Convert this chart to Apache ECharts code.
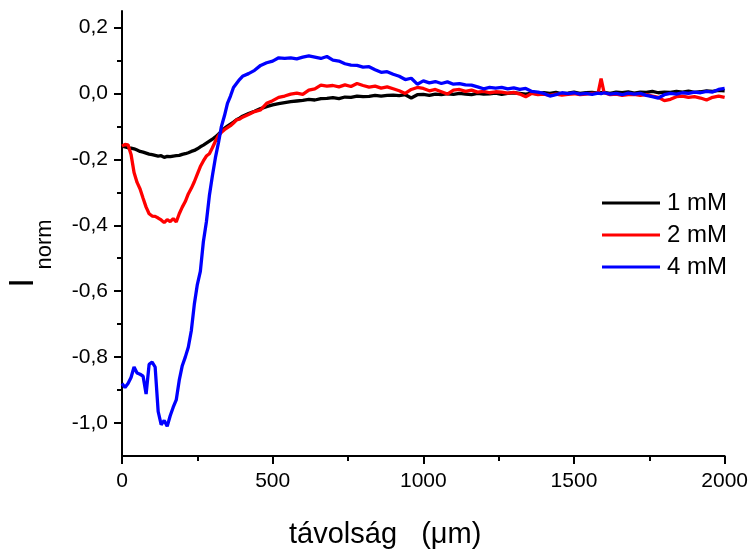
<!DOCTYPE html>
<html>
<head>
<meta charset="utf-8">
<script src="https://cdn.jsdelivr.net/npm/echarts@6/dist/echarts.min.js"></script>
<style>
html,body{margin:0;padding:0;background:#fff;}
#chart{width:751px;height:550px;}
</style>
</head>
<body>
<div id="chart"></div>
<script>
const distance = [0,10,20,30,40,50,60,70,80,90,
100,110,120,130,140,150,160,170,180,190,
200,210,220,230,240,250,260,270,280,290,
300,310,320,330,340,350,360,370,380,390,
400,
420,440,460,480,500,520,540,560,580,600,
620,640,660,680,700,720,740,760,780,800,
820,840,860,880,900,920,940,960,980,1000,
1020,1040,1060,1080,1100,1120,1140,1160,1180,1200,
1220,1240,1260,1280,1300,1320,1340,1360,1380,1400,
1420,1440,1460,1480,1500,1520,1540,1560,1580,1590,
1600,1620,1640,1660,1680,1700,1720,1740,1760,1780,
1800,1820,1840,1860,1880,1900,1920,1940,1960,1980,
2000];

const mM1 = [-0.160,-0.162,-0.165,-0.166,-0.168,-0.172,-0.176,-0.178,-0.181,-0.184,
-0.186,-0.188,-0.190,-0.189,-0.194,-0.191,-0.192,-0.190,-0.189,-0.188,
-0.185,-0.183,-0.180,-0.176,-0.173,-0.168,-0.162,-0.157,-0.151,-0.145,
-0.139,-0.132,-0.124,-0.115,-0.106,-0.099,-0.093,-0.087,-0.080,-0.075,
-0.069,
-0.061,-0.054,-0.046,-0.040,-0.035,-0.031,-0.028,-0.025,-0.023,-0.021,
-0.018,-0.020,-0.016,-0.015,-0.013,-0.016,-0.011,-0.012,-0.008,-0.010,
-0.009,-0.006,-0.008,-0.006,-0.005,-0.007,-0.004,-0.014,-0.004,-0.003,
-0.006,-0.002,-0.004,-0.001,-0.003,0.000,-0.002,-0.004,0.000,-0.002,
-0.001,0.001,-0.003,0.000,0.002,0.000,-0.002,0.001,-0.001,0.002,
0.000,0.003,-0.001,0.001,0.004,0.000,0.002,0.003,0.001,0.002,
0.003,0.000,0.004,0.002,0.005,0.001,0.004,0.003,0.006,0.002,
0.004,0.003,0.006,0.004,0.007,0.003,0.005,0.008,0.006,0.009,
0.008];

const mM2 = [-0.160,-0.155,-0.156,-0.185,-0.240,-0.270,-0.290,-0.318,-0.345,-0.365,
-0.372,-0.373,-0.378,-0.384,-0.392,-0.383,-0.389,-0.380,-0.390,-0.365,
-0.345,-0.328,-0.305,-0.288,-0.268,-0.245,-0.222,-0.205,-0.190,-0.183,
-0.165,-0.145,-0.128,-0.118,-0.110,-0.104,-0.098,-0.090,-0.080,-0.078,
-0.072,
-0.064,-0.055,-0.050,-0.030,-0.022,-0.012,-0.008,-0.002,0.001,-0.003,
0.010,0.014,0.025,0.022,0.024,0.020,0.026,0.021,0.030,0.024,
0.019,0.022,0.016,0.020,0.014,0.008,0.000,0.012,0.018,0.015,
0.008,0.012,0.005,-0.002,0.010,0.012,0.006,0.010,0.004,0.006,
0.002,0.005,0.004,0.001,0.003,-0.002,-0.010,0.000,-0.004,-0.002,
-0.006,-0.002,-0.005,-0.003,-0.001,-0.004,-0.002,0.000,0.001,0.045,
0.002,-0.004,-0.002,-0.006,-0.004,-0.003,-0.006,-0.004,-0.008,-0.012,
-0.022,-0.018,-0.010,-0.008,-0.012,-0.010,-0.014,-0.020,-0.012,-0.008,
-0.012];

const mM4 = [-0.880,-0.892,-0.880,-0.862,-0.830,-0.848,-0.852,-0.858,-0.912,-0.822,
-0.815,-0.830,-0.965,-1.005,-0.992,-1.010,-0.978,-0.952,-0.930,-0.870,
-0.826,-0.800,-0.770,-0.720,-0.640,-0.580,-0.540,-0.450,-0.390,-0.310,
-0.250,-0.195,-0.150,-0.100,-0.068,-0.030,-0.008,0.018,0.030,0.042,
0.052,
0.060,0.070,0.085,0.093,0.098,0.108,0.106,0.108,0.105,0.110,
0.114,0.110,0.106,0.112,0.101,0.098,0.090,0.086,0.085,0.080,
0.081,0.072,0.064,0.066,0.058,0.052,0.042,0.046,0.028,0.038,
0.032,0.036,0.030,0.035,0.028,0.030,0.026,0.025,0.020,0.014,
0.018,0.016,0.018,0.014,0.017,0.012,0.015,0.006,0.004,0.000,
-0.008,-0.004,0.002,-0.001,0.002,-0.002,0.000,-0.003,0.001,-0.001,
0.002,-0.002,0.000,-0.004,0.001,-0.002,0.000,-0.006,-0.010,-0.014,
-0.004,0.000,-0.002,0.002,0.000,0.004,0.002,0.006,0.004,0.012,
0.015];

const seriesNames = ['1 mM', '2 mM', '4 mM'];
const seriesColors = ['#000000', '#ff0000', '#0000ff'];
const yMajorTicks = [-1.0, -0.8, -0.6, -0.4, -0.2, 0.0, 0.2];
const yMinorTicks = [-0.9, -0.7, -0.5, -0.3, -0.1, 0.1];

[mM1, mM2, mM4].forEach((a, i) => {
  if (a.length !== distance.length) throw new Error('length mismatch ' + i + ': ' + a.length + ' vs ' + distance.length);
});

const FONT = '"Liberation Sans", Arial, sans-serif';
const pairs = arr => distance.map((x, i) => [x, arr[i]]);
const fmt = v => {
  const s = Number(v).toFixed(1).replace('.', ',');
  return s === '-0,0' ? '0,0' : s;
};

const chart = echarts.init(document.getElementById('chart'), null, {renderer: 'canvas'});
chart.setOption({
  animation: false,
  backgroundColor: '#ffffff',
  grid: {left: 122, right: 23, top: 11, bottom: 94, containLabel: false},
  legend: {
    orient: 'vertical',
    left: 602,
    top: 191,
    padding: 0,
    icon: 'rect',
    itemWidth: 58,
    itemHeight: 3,
    itemGap: 8,
    data: seriesNames,
    textStyle: {fontFamily: FONT, fontSize: 24, color: '#000', padding: [0, 0, 0, 2]}
  },
  xAxis: {
    type: 'value',
    min: 0,
    max: 2000,
    interval: 500,
    axisLine: {show: true, onZero: false, lineStyle: {color: '#000', width: 2}},
    axisTick: {show: true, length: 8, lineStyle: {color: '#000', width: 2}},
    minorTick: {show: true, splitNumber: 2, length: 5, lineStyle: {color: '#000', width: 2}},
    splitLine: {show: false},
    minorSplitLine: {show: false},
    axisLabel: {fontFamily: FONT, fontSize: 21, color: '#000', margin: 15, formatter: v => String(v)}
  },
  yAxis: [{
    type: 'value',
    min: -1.1,
    max: 0.25,
    position: 'left',
    axisLine: {show: true, onZero: false, lineStyle: {color: '#000', width: 2}},
    axisTick: {show: true, length: 8, customValues: yMajorTicks, lineStyle: {color: '#000', width: 2}},
    splitLine: {show: false},
    axisLabel: {fontFamily: FONT, fontSize: 21, color: '#000', margin: 14, customValues: yMajorTicks, formatter: fmt}
  }, {
    type: 'value',
    min: -1.1,
    max: 0.25,
    position: 'left',
    offset: 0,
    axisLine: {show: false, onZero: false},
    axisTick: {show: true, length: 5, customValues: yMinorTicks, lineStyle: {color: '#000', width: 2}},
    splitLine: {show: false},
    axisLabel: {show: false}
  }],
  series: [mM1, mM2, mM4].map((arr, i) => ({
    name: seriesNames[i],
    type: 'line',
    yAxisIndex: 0,
    data: pairs(arr),
    showSymbol: false,
    symbol: 'none',
    lineStyle: {color: seriesColors[i], width: 3.3},
    itemStyle: {color: seriesColors[i]},
    z: 2 + i
  })),
  graphic: [
    {type: 'text', x: 23.5, y: 283, rotation: Math.PI / 2,
     style: {text: 'I', font: '35px ' + FONT, fill: '#000', align: 'center', verticalAlign: 'middle'}},
    {type: 'text', x: 44.5, y: 244.5, rotation: Math.PI / 2,
     style: {text: 'norm', font: '22px ' + FONT, fill: '#000', align: 'center', verticalAlign: 'middle'}},
    {type: 'text', x: 289, y: 535,
     style: {text: 'távolság   (μm)', font: '29px ' + FONT, fill: '#000', align: 'left', verticalAlign: 'middle'}}
  ]
});
</script>
</body>
</html>
